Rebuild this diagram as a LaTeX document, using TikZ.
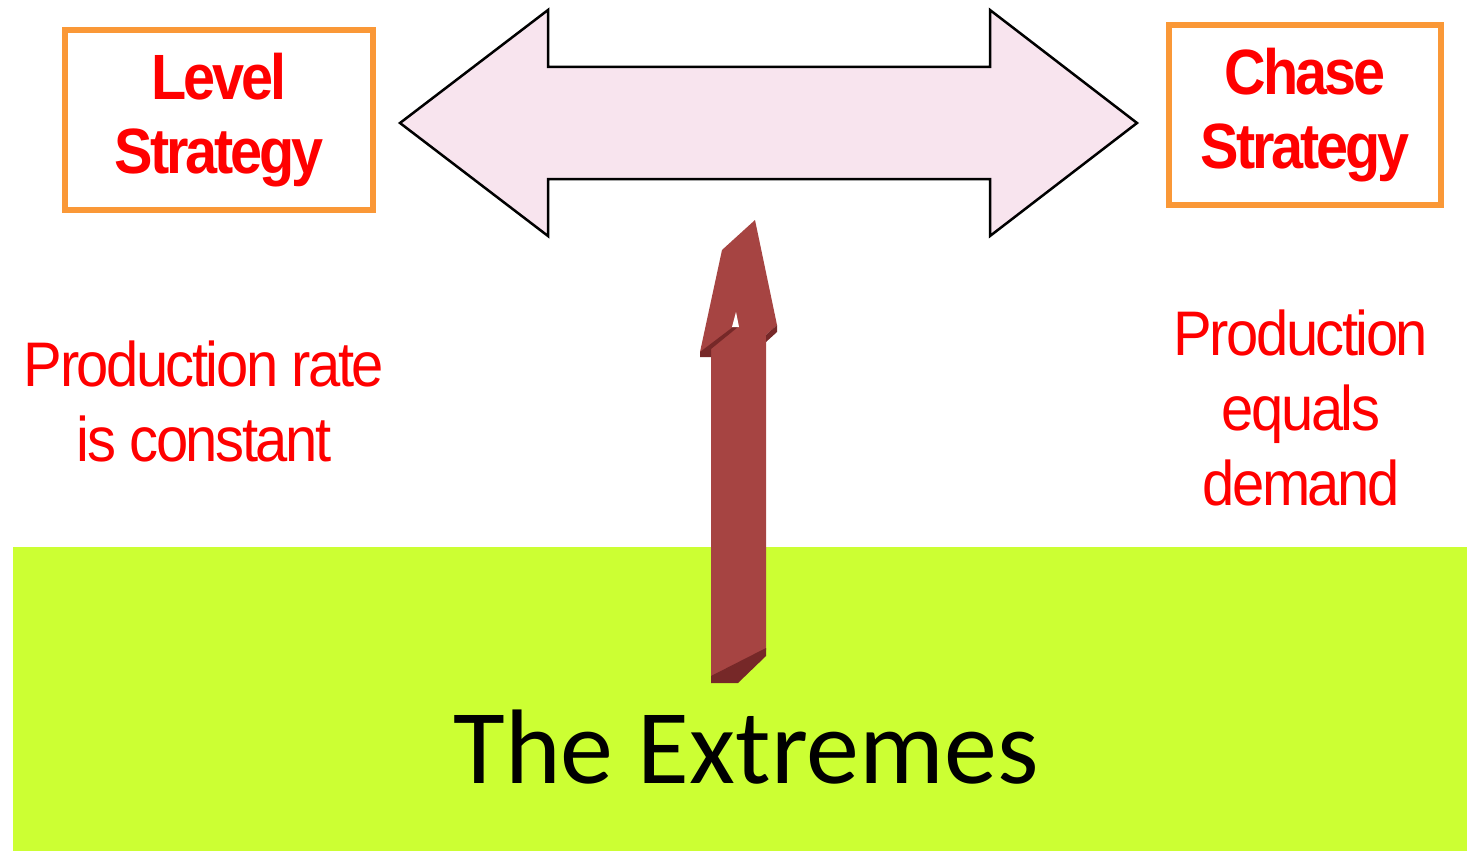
\documentclass[tikz,border=0pt]{standalone}
\usepackage{fontspec}
\setmainfont{Liberation Sans}
\newfontfamily\narrowfont[FakeStretch=0.92, LetterSpace=-4]{Liberation Sans}
\newfontfamily\narrowboldfont[FakeStretch=0.9, LetterSpace=-5]{Liberation Sans Bold}
\newfontfamily\calibrifont{Carlito}
\usepackage{tikz}
\usetikzlibrary{positioning}
\definecolor{lvred}{RGB}{255,0,0}
\definecolor{boxorange}{RGB}{250,152,55}
\definecolor{arrowpink}{RGB}{248,228,238}
\definecolor{limegreen}{RGB}{204,255,51}
\definecolor{brick}{RGB}{166,68,66}
\definecolor{brickdark}{RGB}{118,40,40}

\begin{document}
\begin{tikzpicture}[
    x=1pt, y=-1pt,
    stratbox/.style = {rectangle, draw=boxorange, line width=6pt, fill=white,
                       minimum width=308pt, minimum height=180pt, inner sep=0pt,
                       align=center, text=lvred,
                       font=\narrowboldfont\fontsize{64}{74}\selectfont},
    note/.style     = {align=center, text=lvred, inner sep=0pt,
                       font=\narrowfont\fontsize{63}{75}\selectfont},
    title/.style    = {inner sep=0pt, font=\calibrifont\fontsize{106}{120}\selectfont},
    bigarrow/.style = {draw=black, line width=2.5pt, fill=arrowpink, line join=miter},
]
\useasboundingbox (0,0) rectangle (1467,851);

% ground band
\fill[limegreen] (13,547) rectangle (1467,851);

% two-way arrow between the strategies
\draw[bigarrow] (400,123) -- (548,10) -- (548,67) -- (990,67) -- (990,10)
    -- (1137,123) -- (990,236) -- (990,179) -- (548,179) -- (548,236) -- cycle;

% rising 3d arrow
\fill[brick] (711,683) -- (711,350) -- (700,352) -- (722,250) -- (755,220)
    -- (777,325) -- (766,335) -- (766,650) -- cycle;
\fill[brickdark] (711,676) -- (766,648) -- (766,656) -- (738,683) -- (711,683) -- cycle;
\fill[brickdark] (700,357) -- (700,352) -- (733,327) -- (738,327) -- (711,349) -- (711,357) -- cycle;
\fill[brickdark] (777,325) -- (766,335) -- (766,342) -- (777,332) -- cycle;
\fill[white] (732,327) -- (736,312) -- (739,327) -- cycle;

\node[stratbox] (level) at (219,120) {Level\\Strategy};
\node[stratbox, minimum width=272pt, minimum height=179pt] (chase) at (1305,115) {Chase\\Strategy};

\node[note] (levelnote) at (204,401) {Production rate\\is constant};
\node[note] (chasenote) at (1301,408) {Production\\equals\\demand};

\node[title, anchor=base] (extremes) at (746,783) {The Extremes};
\end{tikzpicture}
\end{document}
